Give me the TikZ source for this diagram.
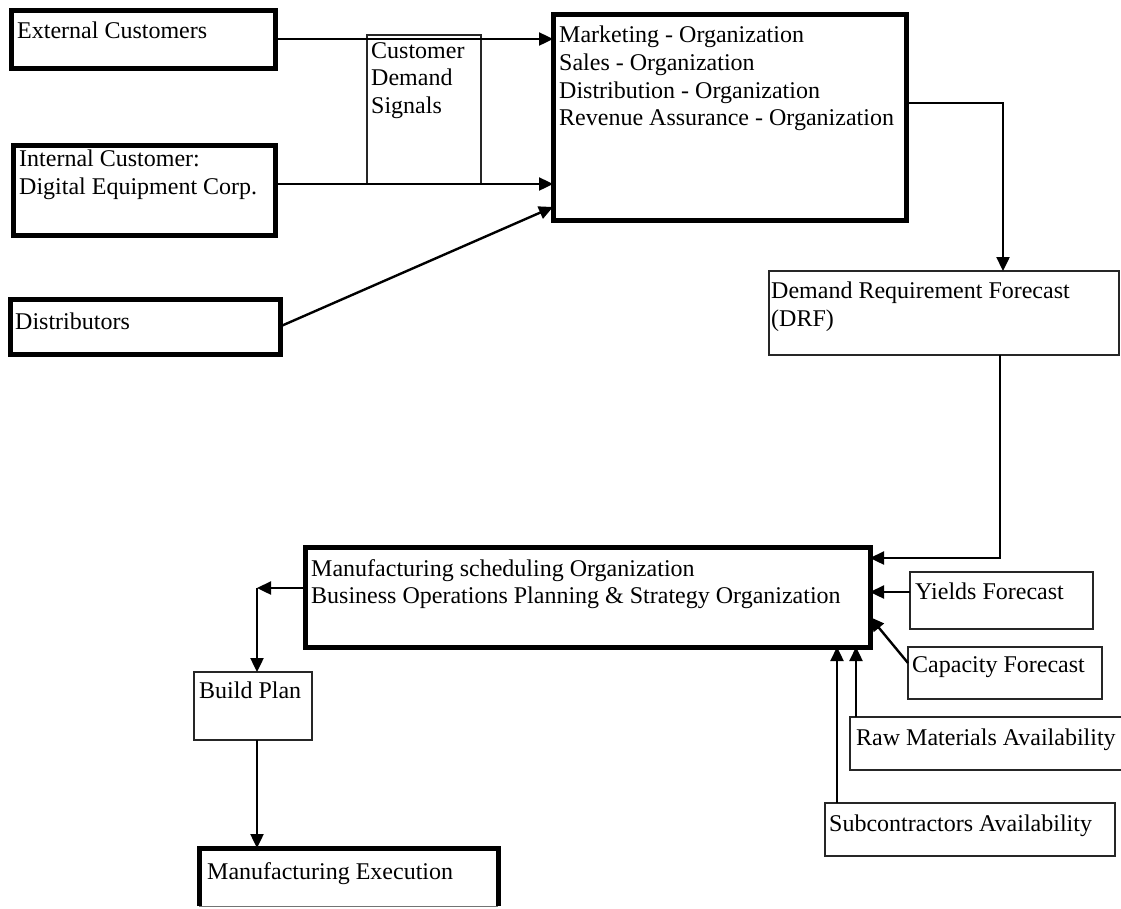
\documentclass[tikz,border=0pt]{standalone}
\usepackage{fontspec}
\setmainfont{Liberation Serif}
\usetikzlibrary{arrows.meta,calc}
\begin{document}
\begin{tikzpicture}[x=1pt,y=-1pt,
  heavy/.style={draw=black, line width=5pt, inner sep=0pt, outer sep=0pt, anchor=north west},
  light/.style={draw=black!85, line width=1.3pt, inner sep=0pt, outer sep=0pt, anchor=north west},
  frame/.style={draw=none, inner sep=0pt, outer sep=0pt, anchor=north west},
  lbl/.style={anchor=north west, inner sep=0pt, align=left, font=\fontsize{24pt}{27.6pt}\selectfont},
  conn/.style={line width=2.4pt},
  arr/.style={conn, -{Triangle[length=14pt,width=13pt]}}]
\useasboundingbox (0,0) rectangle (1121,908);

% ---- customer sources ----
\node[heavy, minimum width=264pt, minimum height=58pt] (ext) at (11,10) {};
\node[lbl] at ([shift={(6,12)}]ext.north west) {External Customers};

\node[heavy, minimum width=262pt, minimum height=90pt] (intc) at (13,145) {};
\node[lbl] at ([shift={(6,5)}]intc.north west) {Internal Customer:\\Digital Equipment Corp.};

\node[heavy, minimum width=270pt, minimum height=55pt] (dist) at (10,299) {};
\node[lbl] at ([shift={(5,14)}]dist.north west) {Distributors};

\node[light, minimum width=114pt, minimum height=149pt] (cds) at (367,35) {};
\node[lbl] at ([shift={(4,7)}]cds.north west) {Customer\\Demand\\Signals};

% ---- demand organizations ----
\node[heavy, minimum width=353pt, minimum height=206pt] (mkt) at (553,14) {};
\node[lbl] at ([shift={(6,12)}]mkt.north west)
  {Marketing - Organization\\Sales - Organization\\Distribution - Organization\\Revenue Assurance - Organization};

\node[light, minimum width=350pt, minimum height=84pt] (drf) at (769,271) {};
\node[lbl] at ([shift={(2,11)}]drf.north west) {Demand Requirement Forecast\\(DRF)};

% ---- scheduling ----
\node[heavy, minimum width=565pt, minimum height=100pt] (mfg) at (305,547) {};
\node[lbl] at ([shift={(6,12)}]mfg.north west)
  {Manufacturing scheduling Organization\\Business Operations Planning \& Strategy Organization};

\node[light, minimum width=183pt, minimum height=57pt] (yld) at (910,572) {};
\node[lbl] at ([shift={(5,11)}]yld.north west) {Yields Forecast};

\node[light, minimum width=194pt, minimum height=52pt] (cap) at (908,647) {};
\node[lbl] at ([shift={(4,9)}]cap.north west) {Capacity Forecast};

\node[light, minimum width=275pt, minimum height=53pt] (raw) at (850,717) {};
\node[lbl] at ([shift={(6,12)}]raw.north west) {Raw Materials Availability};

\node[light, minimum width=290pt, minimum height=53pt] (sub) at (825,803) {};
\node[lbl] at ([shift={(4,12)}]sub.north west) {Subcontractors Availability};

% ---- execution ----
\node[light, minimum width=118pt, minimum height=68pt] (bp) at (194,672) {};
\node[lbl] at ([shift={(5,10)}]bp.north west) {Build Plan};

\node[frame, minimum width=299pt, minimum height=58pt] (mex) at (199,848) {};
\draw[line width=5pt] (mex.south west) -- (mex.north west) -- (mex.north east) -- (mex.south east);
\draw[line width=1pt, black!55] (mex.south west) -- (mex.south east);
\node[lbl] at ([shift={(8,14)}]mex.north west) {Manufacturing Execution};

% ---- connectors ----
\draw[arr] (ext.east) -- (ext.east -| mkt.west);

\coordinate (i1) at (0,184);
\draw[arr] (i1 -| intc.east) -- (i1 -| mkt.west);

\coordinate (dtip) at ($(mkt.south west)+(0,-13)$);
\draw[arr] (dist.east) -- (dtip);

\coordinate (m1) at (1003,103);
\draw[arr] (m1 -| mkt.east) -- (m1) -- (m1 |- drf.north);

\coordinate (d1) at (1000,558);
\draw[arr] (d1 |- drf.south) -- (d1) -- (d1 -| mfg.east);

\coordinate (y1) at (0,592);
\draw[arr] (y1 -| yld.west) -- (y1 -| mfg.east);

\coordinate (c1) at (0,663);
\coordinate (c2) at (0,617);
\draw[arr] (c1 -| cap.west) -- (c2 -| mfg.east);

\coordinate (r1) at (856,0);
\draw[arr] (r1 |- raw.north) -- (r1 |- mfg.south);

\coordinate (s1) at (837,0);
\draw[arr] (s1 |- sub.north) -- (s1 |- mfg.south);

\coordinate (corner) at (257,588);
\draw[arr] (corner -| mfg.west) -- (corner);
\draw[arr] (corner) -- (corner |- bp.north);
\draw[arr] (corner |- bp.south) -- (corner |- mex.north);
\end{tikzpicture}
\end{document}
